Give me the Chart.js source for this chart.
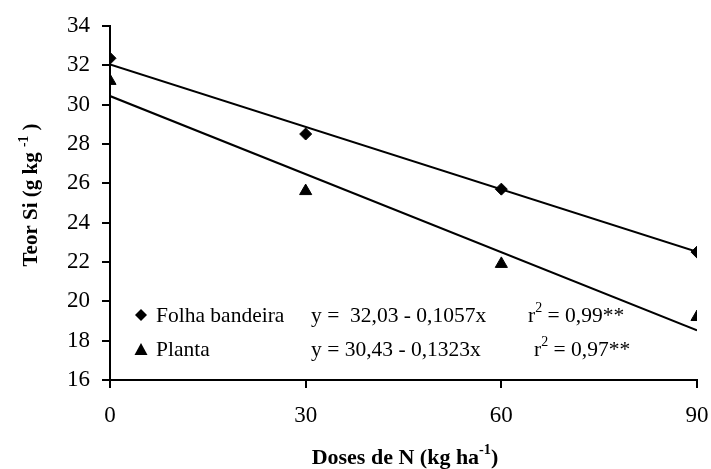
<!DOCTYPE html>
<html>
<head>
<meta charset="utf-8">
<script src="https://cdn.jsdelivr.net/npm/chart.js"></script>
<style>
  html, body { margin: 0; padding: 0; background: #fff; }
  #wrap { width: 711px; height: 469px; }
</style>
</head>
<body>
<div id="wrap"><canvas id="teorChart"></canvas></div>
<script>
// doses de N (kg/ha)
var doses = [0, 30, 60, 90];
// observed values
var folhaBandeira = [32.35, 28.5, 25.7, 22.5];
var planta = [31.2, 25.6, 21.9, 19.2];
// fitted lines, read at x = 0 and x = 90
var lineX = [0, 90];
var folhaFit = [32.03, 22.52];
var plantaFit = [30.43, 18.52];
var xTicks = [0, 30, 60, 90];
var yTicks = [16, 18, 20, 22, 24, 26, 28, 30, 32, 34];

function pts(xs, ys) {
    return xs.map(function (x, i) { return { x: x, y: ys[i] }; });
}

var serif = '"Liberation Serif", "Times New Roman", serif';

// axis titles and in-plot legend with superscripts
var textPlugin = {
    id: 'texts',
    afterDraw: function (chart) {
        var c = chart.ctx;
        c.save();
        c.fillStyle = '#000';
        c.textBaseline = 'alphabetic';

        // helper: draws parts [text, isSup] starting at x
        function runs(parts, x, y, size, bold) {
            var w = bold ? 'bold ' : '';
            parts.forEach(function (p) {
                var s = p[1] ? size * 0.65 : size;
                c.font = w + s + 'px ' + serif;
                c.fillText(p[0], x, p[1] ? y - size * 0.45 : y);
                x += c.measureText(p[0]).width;
            });
            return x;
        }
        function width(parts, size, bold) {
            var w = bold ? 'bold ' : '', t = 0;
            parts.forEach(function (p) {
                c.font = w + (p[1] ? size * 0.65 : size) + 'px ' + serif;
                t += c.measureText(p[0]).width;
            });
            return t;
        }

        // x title
        var xt = [['Doses de N (kg ha', false], ['-1', true], [')', false]];
        runs(xt, 405 - width(xt, 22, true) / 2, 464, 22, true);

        // y title
        var yt = [['Teor Si (g kg ', false], ['-1', true], [' )', false]];
        c.translate(37, 195);
        c.rotate(-Math.PI / 2);
        runs(yt, -width(yt, 21, true) / 2, 0, 21, true);
        c.setTransform(1, 0, 0, 1, 0, 0);

        // legend markers
        var xs = 141;
        c.beginPath();
        c.moveTo(xs, 309); c.lineTo(xs + 6, 315); c.lineTo(xs, 321); c.lineTo(xs - 6, 315);
        c.closePath(); c.fill();
        c.beginPath();
        c.moveTo(xs, 343); c.lineTo(xs + 6.5, 355); c.lineTo(xs - 6.5, 355);
        c.closePath(); c.fill();

        c.font = '21.5px ' + serif;
        c.fillText('Folha bandeira', 156, 322);
        c.fillText('Planta', 156, 356);
        c.fillText('y =  32,03 - 0,1057x', 311, 322);
        c.fillText('y = 30,43 - 0,1323x', 311, 356);
        runs([['r', false], ['2', true], [' = 0,99**', false]], 528, 322, 21.5, false);
        runs([['r', false], ['2', true], [' = 0,97**', false]], 534, 356, 21.5, false);
        c.restore();
    }
};

var ctx = document.getElementById('teorChart').getContext('2d');
var teorChart = new Chart(ctx, {
    type: 'scatter',
    data: {
        datasets: [{
            label: 'Folha bandeira (ajuste)',
            data: pts(lineX, folhaFit),
            showLine: true,
            borderColor: '#000',
            borderWidth: 2,
            pointRadius: 0
        }, {
            label: 'Planta (ajuste)',
            data: pts(lineX, plantaFit),
            showLine: true,
            borderColor: '#000',
            borderWidth: 2,
            pointRadius: 0
        }, {
            label: 'Folha bandeira',
            data: pts(doses, folhaBandeira),
            pointStyle: 'rectRot',
            pointRadius: 6,
            backgroundColor: '#000',
            borderColor: '#000'
        }, {
            label: 'Planta',
            data: pts(doses, planta),
            pointStyle: 'triangle',
            pointRadius: 7,
            backgroundColor: '#000',
            borderColor: '#000'
        }]
    },
    options: {
        responsive: true,
        maintainAspectRatio: false,
        animation: false,
        layout: { padding: { top: 23, right: 14, left: 0, bottom: 0 } },
        plugins: {
            legend: { display: false },
            tooltip: { enabled: false }
        },
        scales: {
            x: {
                type: 'linear',
                min: 0, max: 90,
                afterBuildTicks: function (s) { s.ticks = xTicks.map(function (v) { return { value: v }; }); },
                afterFit: function (s) { s.height = 89; s.paddingRight = 0; s.paddingLeft = 0; },
                border: { color: '#000', width: 2 },
                grid: { drawOnChartArea: false, color: '#000', lineWidth: 2, tickLength: 8 },
                ticks: { color: '#000', font: { family: serif, size: 23 }, padding: 14, maxRotation: 0 }
            },
            y: {
                min: 16, max: 34,
                afterBuildTicks: function (s) { s.ticks = yTicks.map(function (v) { return { value: v }; }); },
                afterFit: function (s) { s.width = 110; },
                border: { color: '#000', width: 2 },
                grid: { drawOnChartArea: false, color: '#000', lineWidth: 2, tickLength: 8 },
                ticks: { color: '#000', font: { family: serif, size: 23 }, padding: 12 }
            }
        }
    },
    plugins: [textPlugin]
});
</script>
</body>
</html>
